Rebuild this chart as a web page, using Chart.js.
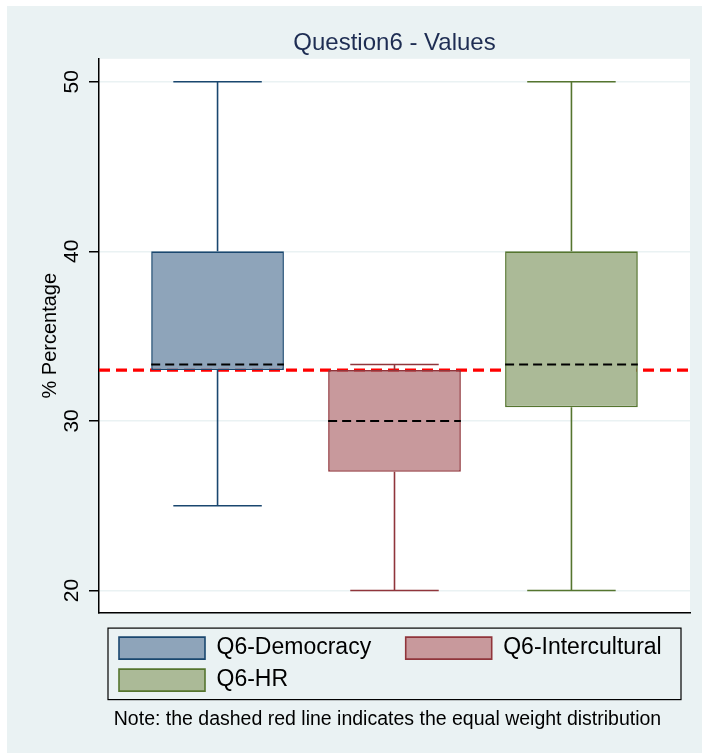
<!DOCTYPE html>
<html>
<head>
<meta charset="utf-8">
<title>Question6 - Values</title>
<script src="https://cdn.jsdelivr.net/npm/chart.js@4.4.1/dist/chart.umd.min.js"></script>
<style>
  html, body { margin: 0; padding: 0; background: #ffffff; }
  canvas { display: block; }
</style>
</head>
<body>
<canvas id="chart" width="702" height="753"></canvas>
<script>
// Box-plot summary per item (percent)
const categories   = ['Q6-Democracy', 'Q6-Intercultural', 'Q6-HR'];
const positions    = [1, 2, 3];
const lowerWhisker = [25, 20, 20];
const q1           = [33, 27, 30.8];
const median       = [33.33, 30, 33.33];
const q3           = [40, 33, 40];
const upperWhisker = [50, 33.33, 50];
const equalWeight  = 33;
const yTicks       = [20, 30, 40, 50];

const NOTE = 'Note: the dashed red line indicates the equal weight distribution';
const FONT = "'Liberation Sans', Arial, Helvetica, sans-serif";
const boxFill = ['#8EA4BA', '#C8999C', '#ABBA97'];
const boxLine = ['#1A476F', '#90353B', '#55752F'];
const BOX_HALF = 0.375;   // half box width, x units
const CAP_HALF = 0.25;    // half whisker-cap width, x units
const X_MIN = 0.33, X_MAX = 3.67;
const Y_MIN = 18.7, Y_MAX = 51.35;

const gap = x => ({ x, y: null });

// Interquartile boxes as floating bars
const boxSets = categories.map((name, i) => ({
  type: 'bar',
  label: name,
  data: [{ x: positions[i], y: [q1[i], q3[i]] }],
  backgroundColor: boxFill[i],
  borderColor: boxLine[i],
  borderWidth: 1.6,
  borderSkipped: false,
  grouped: false,
  categoryPercentage: 1,
  barPercentage: BOX_HALF * 2,
  order: 5
}));

// Whiskers with end caps
const whiskerSets = categories.map((name, i) => {
  const p = positions[i];
  return {
    type: 'line',
    label: name + ' whiskers',
    data: [
      { x: p - CAP_HALF, y: upperWhisker[i] }, { x: p + CAP_HALF, y: upperWhisker[i] }, gap(p),
      { x: p, y: upperWhisker[i] }, { x: p, y: q3[i] }, gap(p),
      { x: p, y: q1[i] }, { x: p, y: lowerWhisker[i] }, gap(p),
      { x: p - CAP_HALF, y: lowerWhisker[i] }, { x: p + CAP_HALF, y: lowerWhisker[i] }
    ],
    borderColor: boxLine[i],
    borderWidth: 1.6,
    pointRadius: 0,
    pointHoverRadius: 0,
    fill: false,
    tension: 0,
    order: 4
  };
});

// Dashed medians across each box
const medianSet = {
  type: 'line',
  label: 'median',
  data: categories.flatMap((_, i) => [
    { x: positions[i] - BOX_HALF, y: median[i] },
    { x: positions[i] + BOX_HALF, y: median[i] },
    gap(positions[i])
  ]),
  borderColor: '#000000',
  borderWidth: 2,
  borderDash: [9, 5],
  pointRadius: 0,
  pointHoverRadius: 0,
  fill: false,
  order: 1
};

// Equal-weight reference line
const equalSet = {
  type: 'line',
  label: 'equal weight',
  data: [{ x: X_MIN, y: equalWeight }, { x: X_MAX, y: equalWeight }],
  borderColor: '#FF0000',
  borderWidth: 3.2,
  borderDash: [11, 6],
  pointRadius: 0,
  pointHoverRadius: 0,
  fill: false,
  order: 10
};

// Graph background and white plot region
const backdrop = {
  id: 'backdrop',
  beforeDraw(chart) {
    const { ctx, chartArea: a, width, height } = chart;
    ctx.save();
    ctx.fillStyle = '#ffffff';
    ctx.fillRect(0, 0, width, height);
    ctx.fillStyle = '#EAF2F3';
    ctx.fillRect(7, 6, width - 7, height - 6);
    ctx.fillStyle = '#ffffff';
    ctx.fillRect(a.left, a.top, a.width, a.height);
    ctx.restore();
  }
};

// Inset the legend, frame it, and nudge the note
const legendFrame = {
  id: 'legendFrame',
  afterLayout(chart) {
    chart.legend.left = chart.chartArea.left + 11;
    chart.legend.right = chart.chartArea.right + 10;
    const note = chart.boxes.find(b => b.options && b.options.text === NOTE);
    if (note) { note.left -= 7; note.right -= 7; }
  },
  afterDraw(chart) {
    const { ctx, chartArea: a, legend: l } = chart;
    ctx.save();
    ctx.strokeStyle = '#000000';
    ctx.lineWidth = 1.2;
    ctx.strokeRect(a.left + 9, l.top + 0.5, a.width - 18, l.height - 2.5);
    ctx.restore();
  }
};

new Chart(document.getElementById('chart'), {
  type: 'bar',
  data: { datasets: [...boxSets, ...whiskerSets, medianSet, equalSet] },
  options: {
    responsive: false,
    animation: false,
    devicePixelRatio: 1,
    layout: { padding: { top: 8, left: 3, right: 12, bottom: 22 } },
    plugins: {
      tooltip: { enabled: false },
      title: {
        display: true,
        text: 'Question6 - Values',
        fullSize: false,
        color: '#1E2D53',
        font: { family: FONT, size: 24, weight: 'normal' },
        padding: { top: 21, bottom: 1 }
      },
      subtitle: {
        display: true,
        position: 'bottom',
        fullSize: false,
        text: NOTE,
        color: '#000000',
        font: { family: FONT, size: 19.5, weight: 'normal' },
        padding: { top: 6, bottom: 0 }
      },
      legend: {
        position: 'bottom',
        align: 'start',
        fullSize: false,
        labels: {
          boxWidth: 86,
          boxHeight: 22,
          padding: 9,
          color: '#000000',
          font: { family: FONT, size: 23 },
          filter: item => item.datasetIndex < categories.length,
          // pad the first-column entry so the second column lines up
          generateLabels: chart => Chart.defaults.plugins.legend.labels.generateLabels(chart)
            .map(item => item.datasetIndex === 0 ? { ...item, text: item.text + '    ' } : item)
        }
      }
    },
    scales: {
      x: {
        type: 'linear',
        offset: false,
        min: X_MIN,
        max: X_MAX,
        afterBuildTicks: s => { s.ticks = positions.map(v => ({ value: v })); },
        afterFit: s => { s.height = 15; },
        ticks: { display: false },
        grid: { display: false },
        border: { display: true, color: '#000000', width: 1.5 }
      },
      y: {
        min: Y_MIN,
        max: Y_MAX,
        afterBuildTicks: s => { s.ticks = yTicks.map(v => ({ value: v })); },
        afterFit: s => { s.width = 96; },
        ticks: {
          minRotation: 90,
          maxRotation: 90,
          crossAlign: 'center',
          padding: 5,
          color: '#000000',
          font: { family: FONT, size: 21, lineHeight: 1 }
        },
        grid: {
          color: '#EAF2F3',
          lineWidth: 1.5,
          tickColor: '#000000',
          tickLength: 10,
          tickWidth: 1.5
        },
        border: { display: true, color: '#000000', width: 1.5 },
        title: {
          display: true,
          text: '% Percentage',
          color: '#000000',
          font: { family: FONT, size: 20 },
          padding: { top: 35, bottom: 1 }
        }
      }
    }
  },
  plugins: [backdrop, legendFrame]
});
</script>
</body>
</html>
